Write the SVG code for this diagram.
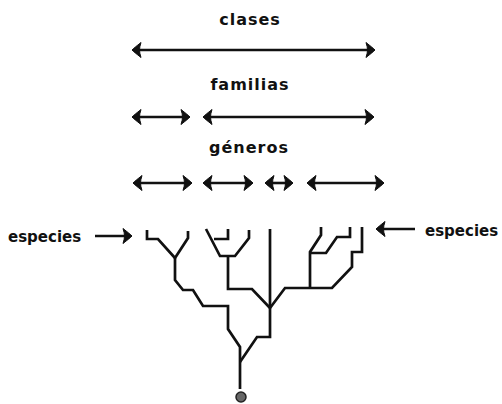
<svg xmlns="http://www.w3.org/2000/svg" width="502" height="404" viewBox="0 0 502 404">
<style>
.lbl{font-family:"DejaVu Sans","Liberation Sans",sans-serif;font-weight:bold;font-size:16px;letter-spacing:1px;fill:#111;text-anchor:middle}
.sp{font-family:"DejaVu Sans","Liberation Sans",sans-serif;font-weight:bold;font-size:15px;fill:#111}
.rng{stroke:#111;stroke-width:2.6;fill:none;marker-start:url(#ah);marker-end:url(#ah)}
.one{stroke:#111;stroke-width:2.6;fill:none;marker-end:url(#ah)}
.br{stroke:#111;stroke-width:2.7;fill:none;stroke-linejoin:miter;stroke-linecap:butt}
</style>
<defs>
<marker id="ah" markerUnits="userSpaceOnUse" viewBox="-1 -9 12 18" refX="9" refY="0" markerWidth="12" markerHeight="18" orient="auto-start-reverse">
<path d="M10,0 Q8,-2 1,-7.5 Q2.5,-3 2.5,0 Q2.5,3 1,7.5 Q8,2 10,0 Z" fill="#111" stroke="#111" stroke-width="1" stroke-linejoin="round"/>
</marker>
</defs>
<rect width="502" height="404" fill="#fff"/>
<g id="labels">
<text id="clases" class="lbl" x="250" y="25">clases</text>
<text id="familias" class="lbl" x="250" y="90">familias</text>
<text id="generos" class="lbl" x="249" y="153">géneros</text>
<text id="especies-left" class="sp" x="8" y="242">especies</text>
<text id="especies-right" class="sp" x="425" y="236">especies</text>
</g>
<g id="ranges">
<line class="rng" x1="133" y1="50" x2="374" y2="50"/>
<line class="rng" x1="133" y1="117" x2="189" y2="117"/>
<line class="rng" x1="204" y1="117" x2="373" y2="117"/>
<line class="rng" x1="134" y1="183" x2="191" y2="183"/>
<line class="rng" x1="204" y1="183" x2="252" y2="183"/>
<line class="rng" x1="266" y1="183" x2="292" y2="183"/>
<line class="rng" x1="308" y1="183" x2="383" y2="183"/>
<line class="one" x1="95" y1="236" x2="131" y2="236"/>
<line class="one" x1="415" y1="229" x2="377" y2="229"/>
</g>
<g id="tree">
<path class="br" d="M147,230 V239 H158 L175,258"/>
<path class="br" d="M188,231 V238 L175,258"/>
<path class="br" d="M175,258 V280 L183,290 H193 L203,306 H228 V329 L240,347 V389"/>
<path class="br" d="M206,229 L220,256 H235 L249,238 V230"/>
<path class="br" d="M228,229 V239 H214"/>
<path class="br" d="M228,256 V289 H252 L270,308"/>
<path class="br" d="M270,229 V337 H257 L240,362"/>
<path class="br" d="M321,227 V235 L310,252 V288"/>
<path class="br" d="M310,253 H326 L337,237 H350 V227"/>
<path class="br" d="M362,227 V252 H352 V267 L332,288 H285 L270,308"/>
<circle id="root" cx="241" cy="397" r="5" fill="#666" stroke="#222" stroke-width="1.5"/>
</g>
</svg>
